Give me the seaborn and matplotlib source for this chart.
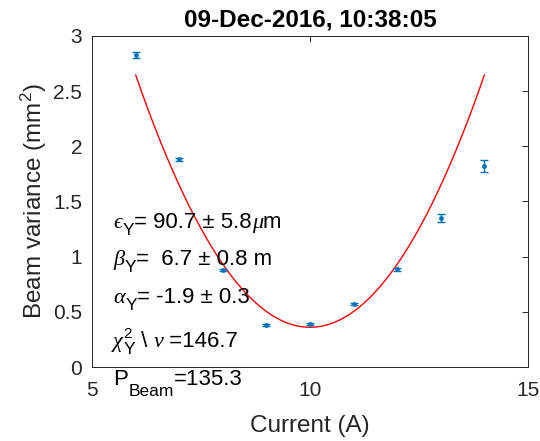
import numpy as np
import pandas as pd
import matplotlib
matplotlib.use("Agg")
import matplotlib.pyplot as plt
import seaborn as sns

# ---- data ----
current = [6, 7, 8, 9, 10, 11, 12, 13, 14]
variance = [2.83, 1.883, 0.88, 0.38, 0.39, 0.571, 0.886, 1.348, 1.825]
variance_err = [0.027, 0.015, 0.012, 0.01, 0.01, 0.012, 0.015, 0.036, 0.055]
# quadratic fit coefficients (a*I^2 + b*I + c) of the red fit curve
fit_coeffs = [0.143, -2.86, 14.66]
fit_range = [6, 14]
title_text = "09-Dec-2016, 10:38:05"
xlabel_text = "Current (A)"
ylabel_text = r"Beam variance (mm$^2$)"
xticks = [5, 10, 15]
yticks = [0, 0.5, 1, 1.5, 2, 2.5, 3]

# annotation lines: pieces of (text, kind) ; kind: n=normal, g=greek italic,
# sub=subscript, sup=superscript (stacked with following sub)
ann_eps = [("\u03f5", "g"), ("Y", "sub"), ("= 90.7 \u00b1 5.8", "n"), ("\u03bc", "g"), ("m", "n")]
ann_beta = [("\u03b2", "g"), ("Y", "sub"), ("=  6.7 \u00b1 0.8 m", "n")]
ann_alpha = [("\u03b1", "g"), ("Y", "sub"), ("= -1.9 \u00b1 0.3", "n")]
ann_chi = [("\u03c7", "g"), ("2", "sup"), ("Y", "sub"), (" \\ ", "n"), ("\u03bd", "g"), (" =146.7", "n")]
ann_p = [("P", "n"), ("Beam", "subP"), ("=135.3", "n")]
annotations = [ann_eps, ann_beta, ann_alpha, ann_chi, ann_p]
annot_y = [1.257, 0.925, 0.578, 0.184, -0.163]
annot_x = 5.48

sns.set_theme(style="white")
plt.rcParams["font.family"] = ["Liberation Sans", "DejaVu Sans"]
plt.rcParams["mathtext.fontset"] = "custom"
plt.rcParams["mathtext.rm"] = "Liberation Sans"
plt.rcParams["mathtext.sf"] = "Liberation Sans"
plt.rcParams["mathtext.it"] = "Liberation Sans:italic"

fig = plt.figure(figsize=(5.4, 4.41), dpi=100)
ax = fig.add_axes([0.1704, 0.1678, 0.8074, 0.7506])

df = pd.DataFrame({"current": current, "variance": variance, "err": variance_err})
blue = "#0072BD"
ax.errorbar(df["current"], df["variance"], yerr=df["err"], fmt="none",
            ecolor=blue, elinewidth=1.0, capsize=3, capthick=1.0, zorder=3)
sns.scatterplot(data=df, x="current", y="variance", ax=ax, color=blue,
                s=12, edgecolor=blue, linewidth=0, zorder=4)

xf = np.linspace(fit_range[0], fit_range[1], 300)
fit_df = pd.DataFrame({"current": xf, "fit": np.polyval(fit_coeffs, xf)})
sns.lineplot(data=fit_df, x="current", y="fit", ax=ax, color="red",
             linewidth=1.0, zorder=2)

MAIN = 16
styles = {
    "n": dict(size=MAIN, family=["Liberation Sans", "DejaVu Sans"], style="normal", dy=0),
    "g": dict(size=MAIN, family=["Liberation Serif", "DejaVu Serif"], style="italic", dy=0),
    "sub": dict(size=12.5, family=["Liberation Sans", "DejaVu Sans"], style="normal", dy=-5),
    "subP": dict(size=12.5, family=["Liberation Sans", "DejaVu Sans"], style="normal", dy=-8),
    "sup": dict(size=11, family=["Liberation Sans", "DejaVu Sans"], style="normal", dy=6),
}

for pieces, yy in zip(annotations, annot_y):
    anchor_for_next = None
    for i, (txt, kind) in enumerate(pieces):
        st = styles[kind]
        kw = dict(fontsize=st["size"], family=st["family"], style=st["style"],
                  color="black", va="baseline", ha="left", clip_on=False,
                  annotation_clip=False, zorder=5)
        if i == 0:
            t = ax.annotate(txt, xy=(annot_x, yy), xycoords="data", **kw)
        else:
            t = ax.annotate(txt, xy=(1, yy), xycoords=(anchor_for_next, "data"),
                            xytext=(0.5 if kind in ("sub", "sup", "subP") else 0, st["dy"]),
                            textcoords="offset points", **kw)
        if kind != "sup":
            anchor_for_next = t

ax.set_xlim(5, 15)
ax.set_ylim(0, 3)
ax.set_xticks(xticks)
ax.set_yticks(yticks)
ax.set_xticklabels([f"{t:g}" for t in xticks])
ax.set_yticklabels([f"{t:g}" for t in yticks])
ax.tick_params(axis="both", direction="in", length=4, width=0.7,
               colors="#262626", labelsize=15, top=True, right=True)
ax.tick_params(axis="x", pad=10)
ax.tick_params(axis="y", pad=7)
for s in ax.spines.values():
    s.set_visible(True)
    s.set_color("#262626")
    s.set_linewidth(0.7)

ax.set_xlabel(xlabel_text, fontsize=17.5, color="#262626", labelpad=11)
ax.set_ylabel(ylabel_text, fontsize=17.5, color="#262626", labelpad=3)
ax.set_title(title_text, fontsize=17.5, fontweight="bold", color="black", pad=7)

fig.savefig("out.png", dpi=100)
